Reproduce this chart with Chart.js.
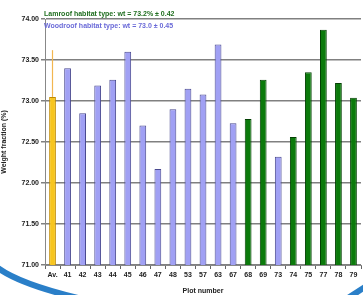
<!DOCTYPE html>
<html lang="en">
<head>
    <meta charset="UTF-8">
    <title>Weight fraction by plot</title>
    <style>
        body {
            margin: 0;
            padding: 0;
            background-color: #ffffff;
        }
        .container {
            width: 363px;
            height: 295px;
            position: relative;
        }
    </style>
</head>
<body>
    <div class="container">
        <canvas id="chart" width="363" height="295"></canvas>
    </div>
    <script src="https://cdn.jsdelivr.net/npm/chart.js@4/dist/chart.umd.min.js"></script>
    <script>
        const plots = ['Av.', '41', '42', '43', '44', '45', '46', '47', '48', '53', '57',
            '63', '67', '68', '69', '73', '74', '75', '77', '78', '79'];
        const weightFraction = [73.05, 73.40, 72.85, 73.19, 73.26, 73.60, 72.70, 72.17, 72.90, 73.15, 73.08,
            73.69, 72.73, 72.78, 73.26, 72.32, 72.56, 73.35, 73.87, 73.22, 73.04];
        const habitat = ['avg', 'wood', 'wood', 'wood', 'wood', 'wood', 'wood', 'wood', 'wood', 'wood', 'wood',
            'wood', 'wood', 'lam', 'lam', 'wood', 'lam', 'lam', 'lam', 'lam', 'lam'];
        const avgSpread = [73.05, 73.62];
        const legendLines = ['Lamroof habitat type: wt = 73.2% \u00b1 0.42', 'Woodroof habitat type: wt = 73.0 \u00b1 0.45'];

        const fillColors = { avg: '#f7c51e', wood: '#a0a0f4', lam: '#0b7a0b' };
        const edgeColors = { avg: '#c08a00', wood: '#4a4a90', lam: '#034003' };

        // legend text, decorative swoosh and the spread line above the average bar
        const extras = {
            id: 'extras',
            afterDraw(chart) {
                const ctx = chart.ctx;
                const x = chart.scales.x;
                const y = chart.scales.y;
                ctx.save();
                ctx.strokeStyle = '#f2b650';
                ctx.lineWidth = 1.2;
                ctx.beginPath();
                ctx.moveTo(Math.round(x.getPixelForValue(0)) - 0.5, y.getPixelForValue(avgSpread[0]));
                ctx.lineTo(Math.round(x.getPixelForValue(0)) - 0.5, y.getPixelForValue(avgSpread[1]));
                ctx.stroke();

                ctx.font = 'bold 7px "Liberation Sans", sans-serif';
                ctx.textBaseline = 'middle';
                ctx.fillStyle = '#1f6e1f';
                ctx.fillText(legendLines[0], chart.chartArea.left - 1, 14);
                ctx.fillStyle = '#6a6ad8';
                ctx.fillText(legendLines[1], chart.chartArea.left - 1, 26);

                ctx.strokeStyle = '#2a7fc8';
                ctx.lineWidth = 6;
                ctx.beginPath();
                ctx.moveTo(-2, 268);
                ctx.quadraticCurveTo(20, 284, 78, 298);
                ctx.stroke();
                ctx.beginPath();
                ctx.moveTo(348, 298);
                ctx.lineTo(365, 287);
                ctx.stroke();
                ctx.restore();
            }
        };

        new Chart(document.getElementById('chart'), {
            type: 'bar',
            data: {
                labels: plots,
                datasets: [{
                    label: 'Weight fraction',
                    data: weightFraction,
                    backgroundColor: habitat.map(h => fillColors[h]),
                    borderColor: habitat.map(h => edgeColors[h]),
                    borderWidth: 1,
                    barPercentage: 0.45,
                    categoryPercentage: 1
                }]
            },
            options: {
                responsive: false,
                animation: false,
                layout: { padding: { top: 19, right: 2, left: 0, bottom: 0 } },
                plugins: {
                    legend: { display: false },
                    tooltip: { enabled: false }
                },
                scales: {
                    x: {
                        afterFit(scale) { scale.height = 30; },
                        grid: { display: true, drawOnChartArea: false, color: '#666', tickLength: 4, offset: true },
                        border: { color: '#888', width: 1 },
                        ticks: {
                            color: '#222',
                            font: { family: 'Liberation Sans', size: 7, weight: 'bold' },
                            maxRotation: 0,
                            autoSkip: false,
                            padding: 2
                        },
                        title: {
                            display: true,
                            text: 'Plot number',
                            color: '#222',
                            font: { family: 'Liberation Sans', size: 7, weight: 'bold' },
                            padding: { top: 2, bottom: 0 }
                        }
                    },
                    y: {
                        min: 71,
                        max: 74,
                        afterFit(scale) { scale.width = 45; },
                        grid: { color: '#808080', lineWidth: 1.5, tickLength: 4 },
                        border: { color: '#888', width: 1 },
                        ticks: {
                            stepSize: 0.5,
                            color: '#222',
                            font: { family: 'Liberation Sans', size: 7, weight: 'bold' },
                            callback: v => v.toFixed(2),
                            padding: 2
                        },
                        title: {
                            display: true,
                            text: 'Weight fraction (%)',
                            color: '#222',
                            font: { family: 'Liberation Sans', size: 7, weight: 'bold' },
                            padding: { top: 0, bottom: 2 }
                        }
                    }
                }
            },
            plugins: [extras]
        });
    </script>
</body>
</html>
